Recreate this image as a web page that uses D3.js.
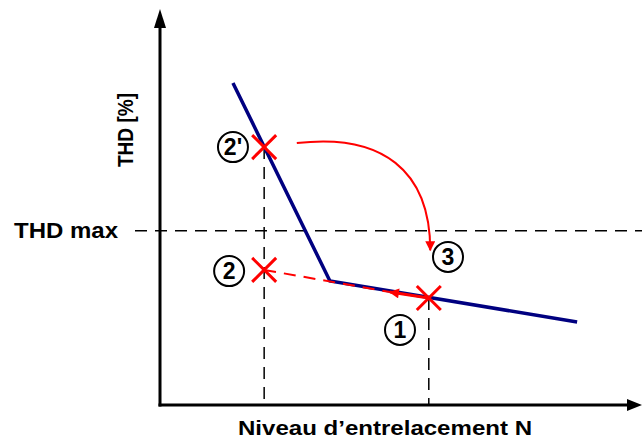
<!DOCTYPE html>
<html>
<head>
<meta charset="utf-8">
<script src="https://cdn.jsdelivr.net/npm/d3@7"></script>
<style>
  body { margin: 0; background: #fff; }
  text { font-family: "Liberation Sans", Arial, sans-serif; font-weight: bold; }
</style>
</head>
<body>
<svg width="642" height="441"></svg>
<script>
// curve THD = f(N), in arbitrary chart units
var curveX = [1.52, 3.54, 8.69];
var curveY = [8.15, 3.14, 2.10];

// operating points (cross markers)
var pointNames = ["2'", "2", "1"];
var pointX = [2.17, 2.17, 5.60];
var pointY = [6.53, 3.42, 2.71];

// circled step labels
var labelText = ["2'", "2", "3", "1"];
var labelX = [1.52, 1.44, 6.00, 5.00];
var labelY = [6.53, 3.39, 3.75, 1.90];

var thdMax = 4.41;
var arrowEnd = [4.79, 2.86];          // end of the red arrow from point 1
var curvedStart = [2.85, 6.63];       // curved arrow 2' -> 3
var curvedEnd = [5.63, 3.92];

var svg = d3.select("svg");

var x = d3.scaleLinear().domain([0, 10]).range([160, 640]);
var y = d3.scaleLinear().domain([0, 10]).range([405, 10]);

var defs = svg.append("defs");
defs.append("marker").attr("id", "redHead")
    .attr("viewBox", "0 0 10 10").attr("refX", 9).attr("refY", 5)
    .attr("markerWidth", 12).attr("markerHeight", 10).attr("orient", "auto")
    .attr("markerUnits", "userSpaceOnUse")
    .append("path").attr("d", "M0,0 L10,5 L0,10 z").attr("fill", "red");

// dashed guide lines
var dash = "12,8";
svg.append("line")
    .attr("x1", 135).attr("x2", 642)
    .attr("y1", y(thdMax)).attr("y2", y(thdMax))
    .attr("stroke", "#000").attr("stroke-width", 1.5).attr("stroke-dasharray", dash);

[0, 2].forEach(function (i) {
    svg.append("line")
        .attr("x1", x(pointX[i])).attr("x2", x(pointX[i]))
        .attr("y1", y(pointY[i])).attr("y2", y(0))
        .attr("stroke", "#000").attr("stroke-width", 1.5).attr("stroke-dasharray", dash);
});

// axes with arrowheads
svg.append("line").attr("x1", x(0)).attr("x2", x(0)).attr("y1", y(0) + 1.5).attr("y2", 26)
    .attr("stroke", "#000").attr("stroke-width", 3);
svg.append("line").attr("x1", x(0) - 1.5).attr("x2", 630).attr("y1", y(0)).attr("y2", y(0))
    .attr("stroke", "#000").attr("stroke-width", 3);
svg.append("path").attr("d", "M" + x(0) + ",9 L" + (x(0) - 6) + ",28 L" + (x(0) + 6) + ",28 z");
svg.append("path").attr("d", "M642," + y(0) + " L627," + (y(0) - 6) + " L627," + (y(0) + 6) + " z");

// blue curve
var line = d3.line().x(function (d) { return x(d[0]); }).y(function (d) { return y(d[1]); });
svg.append("path")
    .attr("d", line(d3.zip(curveX, curveY)))
    .attr("fill", "none").attr("stroke", "#000080").attr("stroke-width", 3.5);

// red dashed line from 2 towards the arrow
svg.append("path")
    .attr("d", line([[pointX[1], pointY[1]], arrowEnd]))
    .attr("fill", "none").attr("stroke", "red").attr("stroke-width", 2)
    .attr("stroke-dasharray", "12,8");

// red arrow from 1
svg.append("path")
    .attr("d", line([[pointX[2], pointY[2]], arrowEnd]))
    .attr("fill", "none").attr("stroke", "red").attr("stroke-width", 3)
    .attr("marker-end", "url(#redHead)");

// curved arrow 2' -> 3
var p0 = [x(curvedStart[0]), y(curvedStart[1])];
var p1 = [x(curvedEnd[0]), y(curvedEnd[1])];
svg.append("path")
    .attr("d", "M" + p0 + " C" + [p0[0] + 85, p0[1] - 10] + " " + [p1[0], p1[1] - 80] + " " + p1)
    .attr("fill", "none").attr("stroke", "red").attr("stroke-width", 2)
    .attr("marker-end", "url(#redHead)");

// crosses
var s = 12;
pointNames.forEach(function (n, i) {
    var cx = x(pointX[i]), cy = y(pointY[i]);
    svg.append("path")
        .attr("d", "M" + (cx - s) + "," + (cy - s) + " L" + (cx + s) + "," + (cy + s) +
            " M" + (cx + s) + "," + (cy - s) + " L" + (cx - s) + "," + (cy + s))
        .attr("stroke", "red").attr("stroke-width", 3).attr("fill", "none");
});

// circled labels
labelText.forEach(function (t, i) {
    var g = svg.append("g").attr("transform", "translate(" + x(labelX[i]) + "," + y(labelY[i]) + ")");
    g.append("circle").attr("r", 15).attr("fill", "#fff").attr("stroke", "#000").attr("stroke-width", 2);
    g.append("text").attr("text-anchor", "middle").attr("dy", "0.36em")
        .attr("font-size", 23).text(t);
});

// axis titles
svg.append("text").attr("transform", "translate(133,130) rotate(-90)")
    .attr("text-anchor", "middle").attr("font-size", 22)
    .attr("textLength", 74).attr("lengthAdjust", "spacingAndGlyphs").text("THD [%]");
svg.append("text").attr("x", 14).attr("y", y(thdMax) + 7)
    .attr("font-size", 22)
    .attr("textLength", 104).attr("lengthAdjust", "spacingAndGlyphs").text("THD max");
svg.append("text").attr("x", 238).attr("y", 435)
    .attr("font-size", 21)
    .attr("textLength", 294).attr("lengthAdjust", "spacingAndGlyphs").text("Niveau d’entrelacement N");
</script>
</body>
</html>
